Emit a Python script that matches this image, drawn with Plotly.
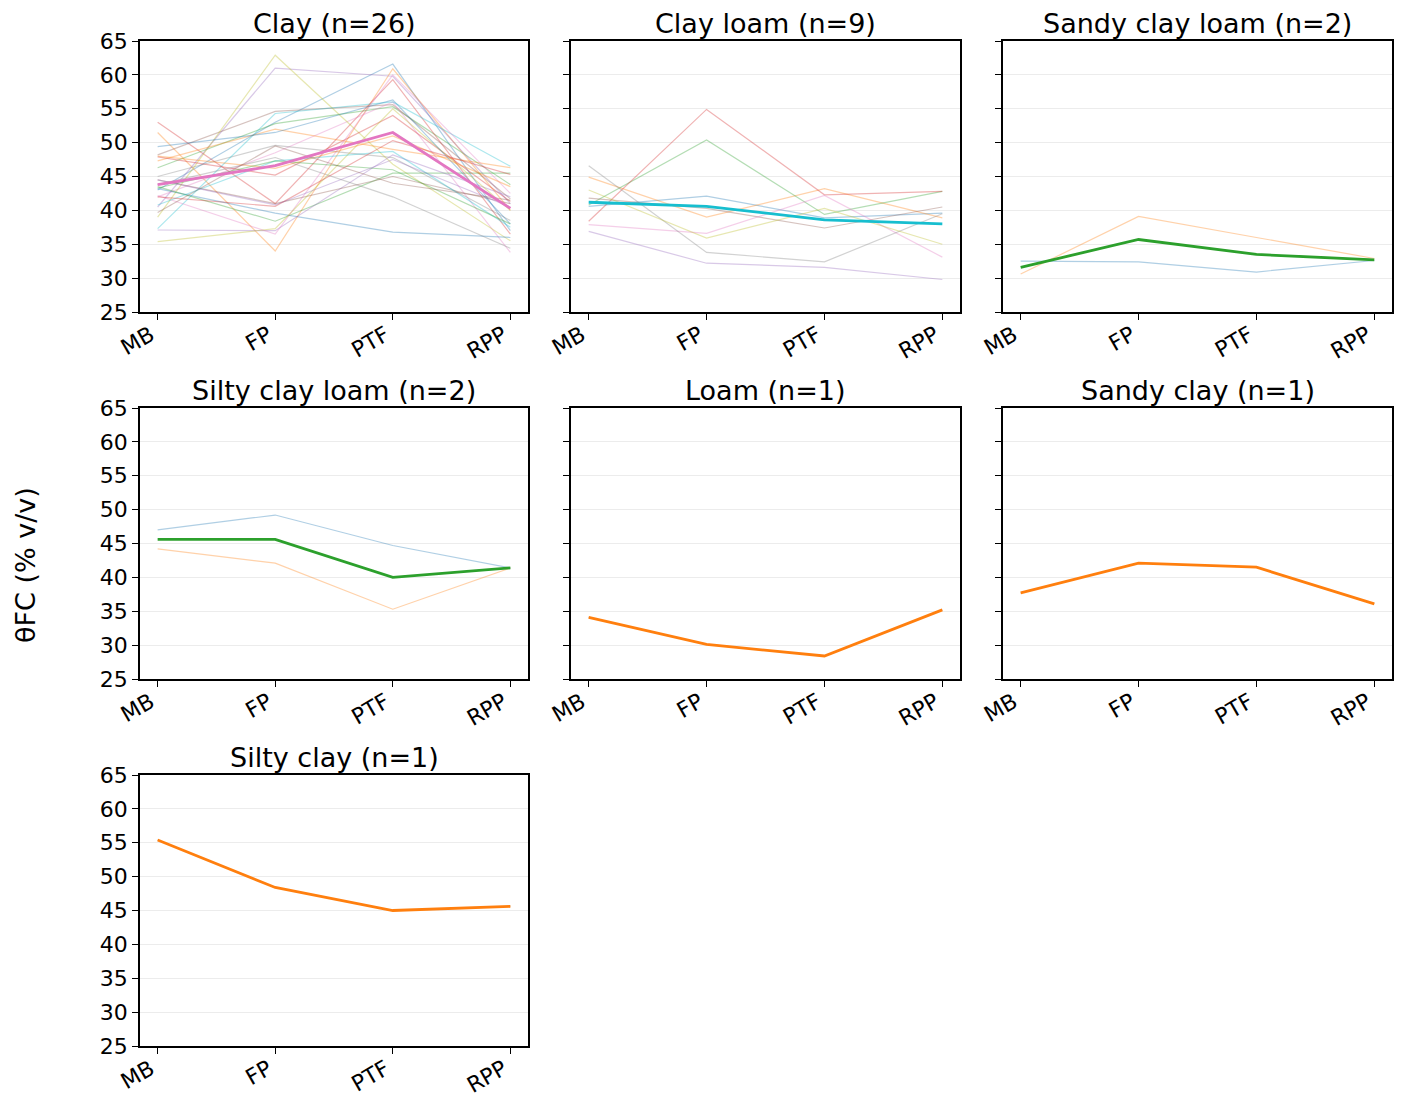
import plotly.graph_objects as go
from plotly.subplots import make_subplots

# sampling methods on the x axis
methods = ["MB", "FP", "PTF", "RPP"]
y_ticks = [25, 30, 35, 40, 45, 50, 55, 60, 65]

# field capacity (% v/v) per sample
clay = [
    [43.0, 53.0, 61.6, 37.0],
    [51.5, 34.0, 60.9, 40.0],
    [46.3, 52.8, 55.3, 43.8],
    [53.0, 41.0, 59.3, 36.5],
    [40.5, 61.0, 59.8, 41.0],
    [48.2, 54.6, 55.6, 41.7],
    [42.0, 48.5, 56.0, 33.8],
    [45.0, 49.6, 47.8, 38.5],
    [39.0, 62.9, 46.8, 35.5],
    [37.3, 54.3, 56.0, 46.5],
    [43.2, 39.6, 36.8, 36.0],
    [47.3, 52.0, 49.0, 46.3],
    [43.5, 38.4, 45.5, 45.5],
    [47.9, 45.2, 54.0, 41.3],
    [37.1, 37.0, 48.2, 42.0],
    [44.5, 41.0, 45.0, 41.0],
    [42.2, 36.5, 60.0, 42.5],
    [43.8, 47.8, 42.0, 34.4],
    [35.4, 37.3, 55.0, 40.0],
    [40.8, 47.3, 48.7, 37.5],
    [49.4, 51.5, 56.3, 38.0],
    [48.0, 46.2, 51.0, 43.5],
    [43.3, 47.3, 46.0, 38.0],
    [42.0, 40.6, 50.3, 45.3],
    [44.5, 40.8, 47.5, 40.5],
    [39.7, 49.5, 44.0, 41.5],
]
clay_mean = [43.8, 46.6, 51.5, 40.3]

clay_loam = [
    [40.6, 42.1, 38.9, 39.6],
    [44.9, 39.0, 43.2, 38.9],
    [40.8, 50.4, 39.4, 42.8],
    [38.4, 54.9, 42.3, 42.8],
    [36.9, 32.2, 31.6, 29.8],
    [41.8, 40.3, 37.4, 40.5],
    [37.9, 36.6, 42.2, 33.1],
    [46.6, 33.8, 32.4, 39.5],
    [43.0, 35.9, 40.3, 35.0],
]
clay_loam_mean = [41.2, 40.6, 38.6, 38.0]

sandy_clay_loam = [
    [32.5, 32.4, 30.9, 32.6],
    [30.6, 39.1, 36.0, 32.9],
]
sandy_clay_loam_mean = [31.6, 35.7, 33.5, 32.7]

silty_clay_loam = [
    [47.0, 49.2, 44.7, 41.4],
    [44.2, 42.1, 35.3, 41.4],
]
silty_clay_loam_mean = [45.6, 45.6, 40.0, 41.4]

loam = [[34.1, 30.1, 28.4, 35.2]]
loam_mean = [34.1, 30.1, 28.4, 35.2]

sandy_clay = [[37.7, 42.1, 41.5, 36.1]]
sandy_clay_mean = [37.7, 42.1, 41.5, 36.1]

silty_clay = [[55.4, 48.4, 45.0, 45.6]]
silty_clay_mean = [55.4, 48.4, 45.0, 45.6]

panels = [
    ("Clay (n=26)", clay, clay_mean),
    ("Clay loam (n=9)", clay_loam, clay_loam_mean),
    ("Sandy clay loam (n=2)", sandy_clay_loam, sandy_clay_loam_mean),
    ("Silty clay loam (n=2)", silty_clay_loam, silty_clay_loam_mean),
    ("Loam (n=1)", loam, loam_mean),
    ("Sandy clay (n=1)", sandy_clay, sandy_clay_mean),
    ("Silty clay (n=1)", silty_clay, silty_clay_mean),
]

tab10 = ['#1f77b4', '#ff7f0e', '#2ca02c', '#d62728', '#9467bd',
         '#8c564b', '#e377c2', '#7f7f7f', '#bcbd22', '#17becf']

# page has an 8px body margin, figure starts at (8, 8)
OFF = 8
W, H = 1408 - OFF, 1100 - OFF
col_px = [(140, 528), (571, 960), (1003, 1392)]
row_px = [(41, 312), (408, 679), (775, 1046)]
FONT = "DejaVu Sans"


def fx(p):
    return (p - OFF) / W


def fy(p):
    return 1 - (p - OFF) / H


fig = make_subplots(rows=3, cols=3)

for i, (title, lines, mean) in enumerate(panels):
    r, c = i // 3 + 1, i % 3 + 1
    for j, vals in enumerate(lines):
        fig.add_trace(go.Scatter(x=methods, y=vals, mode="lines",
                                 line=dict(color=tab10[j % 10], width=1.2),
                                 opacity=0.35, showlegend=False, hoverinfo="skip"),
                      row=r, col=c)
    fig.add_trace(go.Scatter(x=methods, y=mean, mode="lines",
                             line=dict(color=tab10[len(lines) % 10], width=2.8),
                             showlegend=False),
                  row=r, col=c)

    x0, x1 = col_px[c - 1]
    y0, y1 = row_px[r - 1]
    xd = [fx(x0), fx(x1)]
    yd = [fy(y1), fy(y0)]
    fig.update_xaxes(domain=xd, range=[-0.15, 3.15], type="category",
                     tickangle=-30, row=r, col=c)
    fig.update_yaxes(domain=yd, range=[25, 65], tickvals=y_ticks,
                     showticklabels=(c == 1), row=r, col=c)
    fig.add_annotation(text=title, x=(xd[0] + xd[1]) / 2, y=yd[1],
                       xref="paper", yref="paper", xanchor="center", yanchor="bottom",
                       yshift=0, showarrow=False,
                       font=dict(family=FONT, size=27, color="black"))

fig.update_xaxes(showline=True, linecolor="black", linewidth=1.5, mirror=True,
                 ticks="outside", ticklen=6, tickcolor="black", showgrid=False,
                 automargin=False, ticklabelshift=-7, ticklabelstandoff=-6,
                 tickfont=dict(family=FONT, size=22, color="black"))
fig.update_yaxes(showline=True, linecolor="black", linewidth=1.5, mirror=True,
                 ticks="outside", ticklen=6, tickcolor="black",
                 showgrid=True, gridcolor="#ececec", gridwidth=1, zeroline=False,
                 automargin=False,
                 tickfont=dict(family=FONT, size=22, color="black"))

# hide the unused cells in the last row
for c in (2, 3):
    fig.update_xaxes(visible=False, row=3, col=c)
    fig.update_yaxes(visible=False, row=3, col=c)

fig.add_annotation(text="θFC (% v/v)", x=fx(25), y=fy(565), xref="paper", yref="paper",
                   textangle=-90, showarrow=False, xanchor="center", yanchor="middle",
                   font=dict(family=FONT, size=27, color="black"))

fig.update_layout(width=W, height=H, margin=dict(l=0, r=0, t=0, b=0),
                  plot_bgcolor="white", paper_bgcolor="white",
                  font=dict(family=FONT))

fig.write_html("out.html")
